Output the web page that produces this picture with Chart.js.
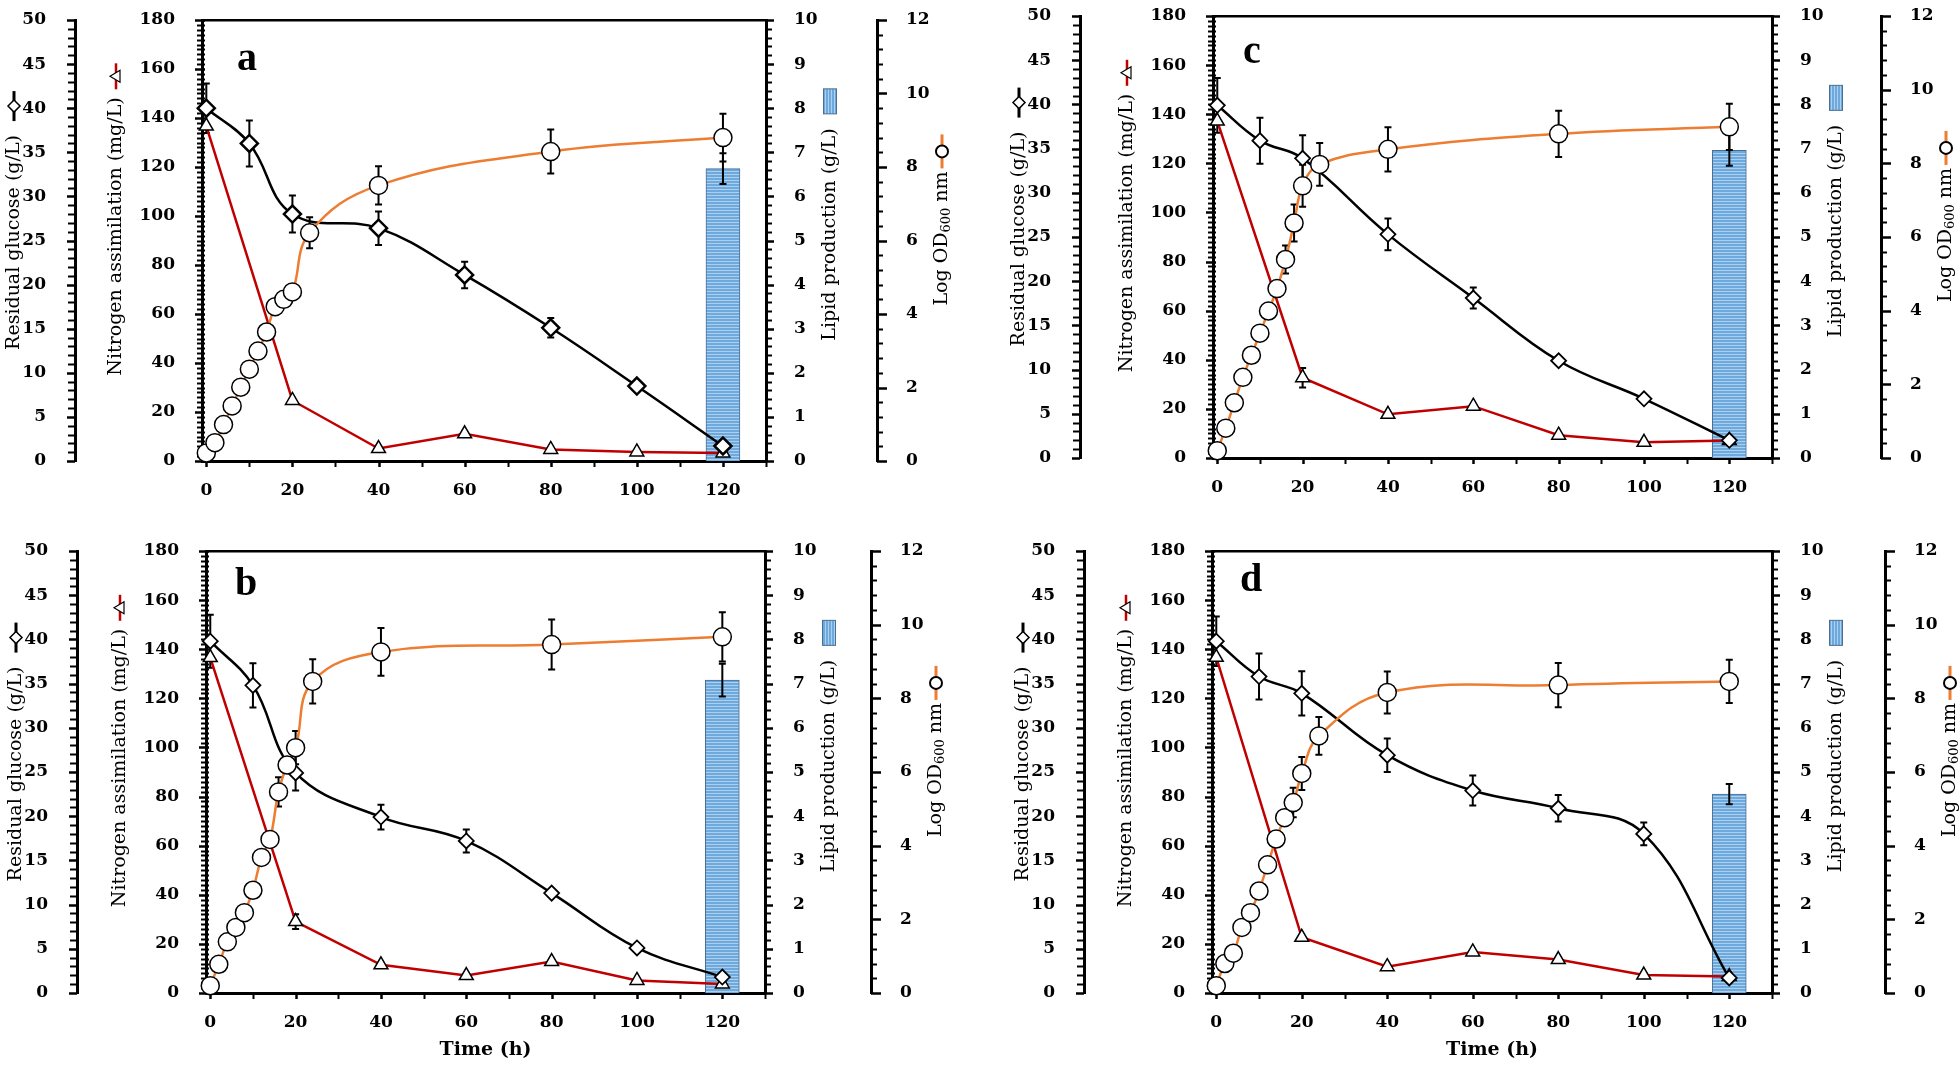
<!DOCTYPE html>
<html>
<head>
<meta charset="utf-8">
<title>Glucose, nitrogen, growth and lipid over time</title>
<script src="https://cdn.jsdelivr.net/npm/chart.js@4.4.1/dist/chart.umd.min.js"></script>
<style>
  html, body { margin: 0; padding: 0; background: #fff; }
  body { width: 1960px; height: 1080px; position: relative; overflow: hidden; }
  .panel { position: absolute; }
</style>
</head>
<body>
<div class="panel" style="left:0px;top:-30px;width:962px;height:540px"><canvas id="chartA"></canvas></div>
<div class="panel" style="left:0px;top:505px;width:962px;height:575px"><canvas id="chartB"></canvas></div>
<div class="panel" style="left:1000px;top:-30px;width:960px;height:540px"><canvas id="chartC"></canvas></div>
<div class="panel" style="left:1000px;top:505px;width:960px;height:575px"><canvas id="chartD"></canvas></div>
<script>
// ---- data ----
const xTickLabels = [0, 20, 40, 60, 80, 100, 120];
const timeGlucose = [0, 10, 20, 40, 60, 80, 100, 120];
const timeNitrogen = [0, 20, 40, 60, 80, 100, 120];
const timeOD = [0, 2, 4, 6, 8, 10, 12, 14, 16, 18, 20, 24, 40, 80, 120];
const timeLipid = [120];

// panel a
const glucoseA = [40.0, 36.0, 28.0, 26.4, 21.1, 15.1, 8.5, 1.7];
const glucoseErrA = [2.8, 2.6, 2.1, 1.9, 1.5, 1.1, 0.3, 0.3];
const nitrogenA = [136.7, 24.7, 5.1, 11.1, 4.7, 3.7, 3.3];
const nitrogenErrA = [0, 0, 0, 0, 0, 0, 0];
const odA = [0.22, 0.50, 0.99, 1.50, 2.01, 2.50, 2.99, 3.51, 4.20, 4.40, 4.60, 6.21, 7.50, 8.42, 8.80];
const odErrA = [0, 0, 0, 0, 0, 0, 0, 0, 0.15, 0.15, 0.15, 0.42, 0.52, 0.60, 0.65];
const lipidA = [6.63];
const lipidErrA = [0.35];

// panel b
const glucoseB = [39.8, 34.8, 24.9, 19.9, 17.2, 11.3, 5.1, 1.8];
const glucoseErrB = [3.0, 2.5, 2.0, 1.4, 1.3, 0.4, 0.3, 0.3];
const nitrogenB = [136.6, 29.1, 11.5, 7.1, 12.8, 5.1, 3.7];
const nitrogenErrB = [0, 3, 0, 0, 0, 0, 0];
const odB = [0.20, 0.78, 1.39, 1.78, 2.18, 2.79, 3.68, 4.17, 5.46, 6.19, 6.66, 8.46, 9.26, 9.46, 9.67];
const odErrB = [0, 0, 0, 0, 0, 0, 0, 0, 0.40, 0.10, 0.45, 0.60, 0.65, 0.68, 0.67];
const lipidB = [7.08];
const lipidErrB = [0.37];

// panel c
const glucoseC = [39.9, 35.9, 33.9, 25.3, 18.1, 11.0, 6.7, 2.0];
const glucoseErrC = [3.1, 2.6, 2.6, 1.8, 1.2, 0.3, 0.3, 0.3];
const nitrogenC = [137.2, 32.7, 17.8, 21.1, 9.3, 6.4, 7.1];
const nitrogenErrC = [0, 4, 0, 0, 0, 0, 0];
const odC = [0.20, 0.81, 1.50, 2.19, 2.79, 3.39, 3.99, 4.60, 5.39, 6.38, 7.39, 7.97, 8.38, 8.80, 8.99];
const odErrC = [0, 0, 0, 0, 0, 0, 0, 0.10, 0.38, 0.50, 0.57, 0.58, 0.60, 0.63, 0.63];
const lipidC = [6.96];
const lipidErrC = [0.35];

// panel d
const glucoseD = [39.8, 35.8, 33.9, 26.9, 22.9, 20.9, 18.0, 1.7];
const glucoseErrD = [2.8, 2.6, 2.5, 1.9, 1.7, 1.5, 1.3, 0.3];
const nitrogenD = [136.7, 22.7, 10.7, 16.7, 13.6, 7.3, 6.7];
const nitrogenErrD = [0, 0, 0, 0, 0, 0, 0];
const odD = [0.20, 0.80, 1.08, 1.78, 2.18, 2.77, 3.48, 4.18, 4.76, 5.17, 5.96, 6.98, 8.16, 8.36, 8.46];
const odErrD = [0, 0, 0, 0, 0, 0, 0, 0.10, 0.10, 0.40, 0.45, 0.51, 0.57, 0.60, 0.59];
const lipidD = [4.50];
const lipidErrD = [0.23];

// ---- helpers ----
const ORANGE = '#ed7d31';
const RED = '#c00000';
const tickFont = { family: 'DejaVu Serif', size: 17, weight: 'bold' };

// tick mark lengths per axis: outward length for major/minor, plus how far it pokes inside
const markSpec = {
  x:  { major: 6, minor: 6, inner: 0 },
  yG: { major: 8, minor: 7, inner: 0 },
  yN: { major: 7, minor: 5, inner: 3 },
  yL: { major: 8, minor: 6, inner: 0 },
  yO: { major: 10, minor: 6, inner: 0 }
};

function xy(xs, ys) {
  return xs.map((x, i) => ({ x: x, y: ys[i] }));
}

// evenly spaced tick values (axis ruler, not data)
function ruler(from, to, step) {
  const out = [];
  const n = Math.round((to - from) / step);
  for (let i = 0; i <= n; i++) out.push({ value: Math.round((from + i * step) * 1000) / 1000 });
  return out;
}

function stripes(vertical) {
  const c = document.createElement('canvas');
  c.width = 3; c.height = 3;
  const g = c.getContext('2d');
  g.fillStyle = '#6ea9de';
  g.fillRect(0, 0, 3, 3);
  g.fillStyle = '#aed0ef';
  if (vertical) g.fillRect(0, 0, 1, 3); else g.fillRect(0, 0, 3, 1);
  return g.createPattern(c, 'repeat');
}

function yAxis(pos, weight, max, step, major, width, padding) {
  const isMajor = v => Math.abs(v / major - Math.round(v / major)) < 1e-6;
  return {
    type: 'linear', position: pos, weight: weight, min: 0, max: max,
    grid: { display: false },
    border: { display: true, color: '#000', width: 3 },
    ticks: {
      autoSkip: false, padding: padding, color: '#000', font: tickFont,
      callback: v => isMajor(v) ? String(Math.round(v)) : ''
    },
    afterBuildTicks: s => { s.ticks = ruler(0, max, step); },
    afterFit: s => { s.width = width; }
  };
}

// rotated axis title (reads bottom to top), returns text length
function drawVertical(ctx, parts, cx, cy) {
  const fontFor = sub => (sub ? 13 : 19) + 'px "DejaVu Serif"';
  let total = 0;
  const widths = parts.map(p => {
    ctx.font = fontFor(p.sub);
    const w = ctx.measureText(p.t).width;
    total += w;
    return w;
  });
  ctx.save();
  ctx.translate(cx, cy);
  ctx.rotate(-Math.PI / 2);
  ctx.textBaseline = 'middle';
  ctx.textAlign = 'left';
  ctx.fillStyle = '#000';
  let x = -total / 2;
  parts.forEach((p, i) => {
    ctx.font = fontFor(p.sub);
    ctx.fillText(p.t, x, p.sub ? 5 : 0);
    x += widths[i];
  });
  ctx.restore();
  return total;
}

function drawKey(ctx, type, x, y) {
  ctx.save();
  if (type === 'glucose') {
    ctx.strokeStyle = '#000'; ctx.lineWidth = 3;
    ctx.beginPath(); ctx.moveTo(x, y - 15); ctx.lineTo(x, y + 15); ctx.stroke();
    ctx.beginPath();
    ctx.moveTo(x, y - 6); ctx.lineTo(x + 6, y); ctx.lineTo(x, y + 6); ctx.lineTo(x - 6, y); ctx.closePath();
    ctx.fillStyle = '#fff'; ctx.fill(); ctx.lineWidth = 1.5; ctx.stroke();
  } else if (type === 'nitrogen') {
    ctx.strokeStyle = RED; ctx.lineWidth = 2.5;
    ctx.beginPath(); ctx.moveTo(x, y - 13); ctx.lineTo(x, y + 13); ctx.stroke();
    ctx.beginPath();
    ctx.moveTo(x - 6, y); ctx.lineTo(x + 4, y - 6); ctx.lineTo(x + 4, y + 6); ctx.closePath();
    ctx.fillStyle = '#fff'; ctx.fill(); ctx.strokeStyle = '#000'; ctx.lineWidth = 1.2; ctx.stroke();
  } else if (type === 'lipid') {
    ctx.fillStyle = stripes(true);
    ctx.fillRect(x - 6.5, y - 12.5, 13, 25);
    ctx.strokeStyle = '#4a6f94'; ctx.lineWidth = 1;
    ctx.strokeRect(x - 6.5, y - 12.5, 13, 25);
  } else if (type === 'od') {
    ctx.strokeStyle = ORANGE; ctx.lineWidth = 3;
    ctx.beginPath(); ctx.moveTo(x, y - 17); ctx.lineTo(x, y + 17); ctx.stroke();
    ctx.beginPath(); ctx.arc(x, y, 6, 0, Math.PI * 2);
    ctx.fillStyle = '#fff'; ctx.fill(); ctx.strokeStyle = '#000'; ctx.lineWidth = 2; ctx.stroke();
  }
  ctx.restore();
}

const axisTitles = [
  { axis: 'yG', side: 'left', dist: 61, dy: 2, gap: 29, key: 'glucose', parts: [{ t: 'Residual glucose (g/L)' }] },
  { axis: 'yN', side: 'left', dist: 86, dy: -4, gap: 21, key: 'nitrogen', parts: [{ t: 'Nitrogen assimilation (mg/L)' }] },
  { axis: 'yL', side: 'right', dist: 64, dy: -6, gap: 27, key: 'lipid', parts: [{ t: 'Lipid production (g/L)' }] },
  { axis: 'yO', side: 'right', dist: 65, dy: -2, gap: 20, key: 'od', parts: [{ t: 'Log OD' }, { t: '600', sub: true }, { t: ' nm' }] }
];

const decor = {
  id: 'decor',
  // ruler tick marks on every axis, taken from the scales' own ticks
  beforeDatasetsDraw(chart) {
    const ctx = chart.ctx;
    ctx.save();
    ctx.strokeStyle = '#000';
    Object.values(chart.scales).forEach(s => {
      const spec = markSpec[s.id];
      if (!spec) return;
      s.ticks.forEach(t => {
        const major = t.label !== '' && t.label !== undefined;
        const len = major ? spec.major : spec.minor;
        const p = Math.round(s.getPixelForValue(t.value)) + 0.5;
        ctx.lineWidth = major ? 2.5 : 2;
        ctx.beginPath();
        if (s.isHorizontal()) {
          ctx.moveTo(p, s.top); ctx.lineTo(p, s.top + len);
        } else if (s.position === 'left') {
          ctx.moveTo(s.right - len, p); ctx.lineTo(s.right + spec.inner, p);
        } else {
          ctx.moveTo(s.left - spec.inner, p); ctx.lineTo(s.left + len, p);
        }
        ctx.stroke();
      });
    });
    ctx.restore();
  },
  // error bars go on top of the lipid bar but under the lines and markers
  afterDatasetDraw(chart, args) {
    if (args.meta.type !== 'bar') return;
    const ctx = chart.ctx;
    const xs = chart.scales.x;
    ctx.save();
    ctx.strokeStyle = '#000';
    ctx.lineWidth = 2;
    chart.data.datasets.forEach(ds => {
      if (!ds.errors) return;
      const ys = chart.scales[ds.yAxisID];
      ds.data.forEach((pt, i) => {
        const e = ds.errors[i];
        if (!e) return;
        const px = xs.getPixelForValue(pt.x);
        const y1 = ys.getPixelForValue(pt.y + e);
        const y2 = ys.getPixelForValue(pt.y - e);
        ctx.beginPath();
        ctx.moveTo(px, y1); ctx.lineTo(px, y2);
        ctx.moveTo(px - 3.5, y1); ctx.lineTo(px + 3.5, y1);
        ctx.moveTo(px - 3.5, y2); ctx.lineTo(px + 3.5, y2);
        ctx.stroke();
      });
    });
    ctx.restore();
  },
  afterDraw(chart, args, opts) {
    const ctx = chart.ctx;
    const area = chart.chartArea;
    const mid = (area.top + area.bottom) / 2;
    axisTitles.forEach(t => {
      const s = chart.scales[t.axis];
      const cx = t.side === 'left' ? s.right - t.dist : s.left + t.dist;
      const cy = mid + t.dy;
      const len = drawVertical(ctx, t.parts, cx, cy);
      drawKey(ctx, t.key, cx, cy - len / 2 - t.gap);
    });
    ctx.save();
    ctx.fillStyle = '#000';
    ctx.font = 'bold 40px "Liberation Serif"';
    ctx.textBaseline = 'alphabetic';
    ctx.fillText(opts.letter, area.left + opts.letterX, area.top + opts.letterY);
    ctx.restore();
  }
};

function makePanel(p) {
  return new Chart(document.getElementById(p.canvas), {
    type: 'line',
    data: {
      datasets: [
        {
          type: 'bar', label: 'Lipid production (g/L)', data: xy(timeLipid, p.lipid), errors: p.lipidErr,
          yAxisID: 'yL', backgroundColor: stripes(false), borderColor: '#4a6f94', borderWidth: 1,
          barThickness: 34, order: 10
        },
        {
          label: 'Nitrogen assimilation (mg/L)', data: xy(timeNitrogen, p.nitrogen), errors: p.nitrogenErr,
          yAxisID: 'yN', borderColor: RED, borderWidth: 2.5, tension: 0, fill: false, clip: false,
          pointStyle: 'triangle', pointRadius: 8, pointBackgroundColor: '#fff', pointBorderColor: '#000',
          pointBorderWidth: 1.5, order: 3
        },
        {
          label: 'Residual glucose (g/L)', data: xy(timeGlucose, p.glucose), errors: p.glucoseErr,
          yAxisID: 'yG', borderColor: '#000', borderWidth: 2.5, tension: 0.4, fill: false, clip: false,
          pointStyle: 'rectRot', pointRadius: p.diamond, pointBackgroundColor: '#fff', pointBorderColor: '#000',
          pointBorderWidth: p.diamondBorder, order: 2
        },
        {
          label: 'Log OD600 nm', data: xy(timeOD, p.od), errors: p.odErr,
          yAxisID: 'yO', borderColor: ORANGE, borderWidth: 2.5, tension: 0.4, fill: false, clip: false,
          pointStyle: 'circle', pointRadius: 9, pointBackgroundColor: '#fff', pointBorderColor: '#000',
          pointBorderWidth: 1.5, order: 1
        }
      ]
    },
    options: {
      animation: false,
      responsive: true,
      maintainAspectRatio: false,
      devicePixelRatio: 1,
      events: [],
      layout: { padding: p.pad },
      plugins: {
        legend: { display: false },
        tooltip: { enabled: false },
        decor: { letter: p.letter, letterX: p.letterAt[0], letterY: p.letterAt[1] }
      },
      scales: {
        x: {
          type: 'linear', position: 'bottom', min: -1, max: 130, offset: false,
          grid: { display: false },
          border: { color: '#000', width: 3 },
          ticks: {
            autoSkip: false, maxRotation: 0, padding: 11,
            color: '#000', font: tickFont,
            callback: v => xTickLabels.includes(v) ? String(v) : ''
          },
          afterBuildTicks: s => { s.ticks = ruler(0, 130, 10); },
          title: {
            display: p.showTime, text: 'Time (h)', color: '#000',
            font: { family: 'DejaVu Serif', size: 19, weight: 'bold' },
            padding: { top: 0, bottom: 4 }
          },
          afterFit: s => { s.height = p.xH; }
        },
        xTop: {
          type: 'linear', position: 'top', min: -1, max: 130,
          grid: { display: false }, ticks: { display: false },
          border: { color: '#000', width: 2.5 }
        },
        yG: yAxis('left', 2, 50, 1, 5, 75, 21),
        yN: yAxis('left', 1, 180, 2, 20, p.wN, 19),
        yL: yAxis('right', 1, 10, 0.2, 1, p.wL, 20),
        yO: yAxis('right', 2, 12, 0.4, 2, p.wO, 21)
      }
    },
    plugins: [decor]
  });
}

const panels = [
  {
    canvas: 'chartA', letter: 'a', letterAt: [35, 50],
    glucose: glucoseA, glucoseErr: glucoseErrA, nitrogen: nitrogenA, nitrogenErr: nitrogenErrA,
    od: odA, odErr: odErrA, lipid: lipidA, lipidErr: lipidErrA,
    pad: { left: 0, right: 7, top: 42, bottom: 9 }, wN: 127, wL: 111, wO: 78, xH: 40,
    showTime: false, diamond: 8.5, diamondBorder: 2.5
  },
  {
    canvas: 'chartB', letter: 'b', letterAt: [29, 44],
    glucose: glucoseB, glucoseErr: glucoseErrB, nitrogen: nitrogenB, nitrogenErr: nitrogenErrB,
    od: odB, odErr: odErrB, lipid: lipidB, lipidErr: lipidErrB,
    pad: { left: 2, right: 13, top: 38, bottom: 15 }, wN: 129, wL: 106, wO: 78, xH: 72,
    showTime: true, diamond: 7.5, diamondBorder: 1.8
  },
  {
    canvas: 'chartC', letter: 'c', letterAt: [30, 47],
    glucose: glucoseC, glucoseErr: glucoseErrC, nitrogen: nitrogenC, nitrogenErr: nitrogenErrC,
    od: odC, odErr: odErrC, lipid: lipidC, lipidErr: lipidErrC,
    pad: { left: 5, right: 1, top: 38, bottom: 12 }, wN: 133, wL: 109, wO: 78, xH: 40,
    showTime: false, diamond: 7.5, diamondBorder: 1.8
  },
  {
    canvas: 'chartD', letter: 'd', letterAt: [28, 40],
    glucose: glucoseD, glucoseErr: glucoseErrD, nitrogen: nitrogenD, nitrogenErr: nitrogenErrD,
    od: odD, odErr: odErrD, lipid: lipidD, lipidErr: lipidErrD,
    pad: { left: 9, right: 0, top: 38, bottom: 15 }, wN: 128, wL: 113, wO: 75, xH: 72,
    showTime: true, diamond: 7.5, diamondBorder: 1.8
  }
];

panels.forEach(makePanel);
</script>
</body>
</html>
